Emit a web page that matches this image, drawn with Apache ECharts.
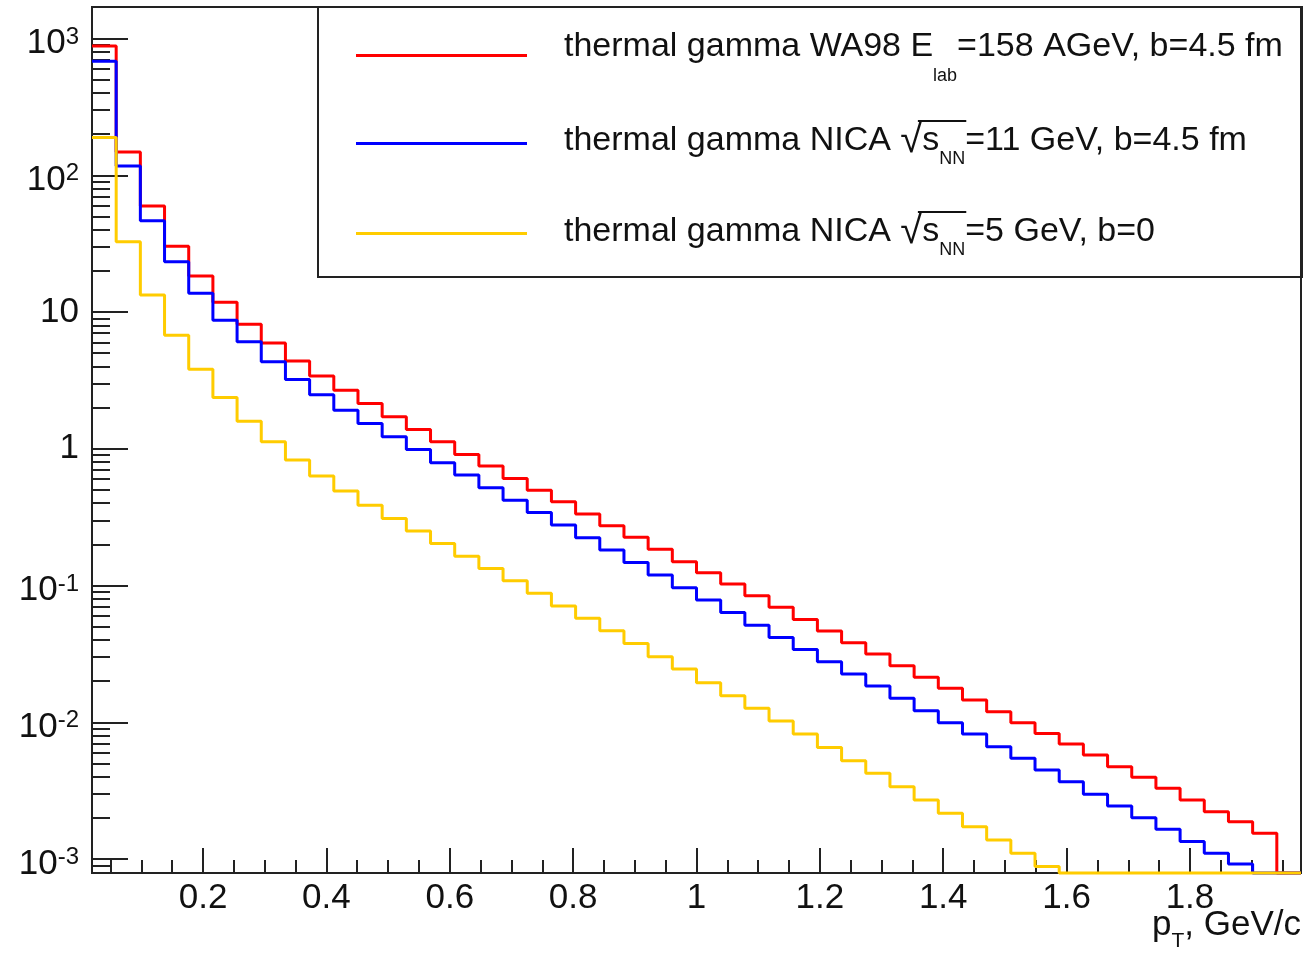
<!DOCTYPE html>
<html><head><meta charset="utf-8">
<script src="https://cdn.jsdelivr.net/npm/echarts@6/dist/echarts.min.js"></script>
<style>html,body{margin:0;padding:0;background:#fff}#c{width:1307px;height:955px}</style>
</head><body><div id="c"></div>
<script>
// ---- histogram binning (50 bins over the pT range) ----
const binLow = 0.02;
const binHigh = 1.98;
const nBins = 50;

// ---- tick values / labels ----
const xTickLabels = [0.2, 0.4, 0.6, 0.8, 1, 1.2, 1.4, 1.6, 1.8];
const yTickValues = [0.001, 0.01, 0.1, 1, 10, 100, 1000];

// ---- series names ----
const seriesNames = [
  'thermal gamma WA98 E_lab=158 AGeV, b=4.5 fm',
  'thermal gamma NICA sqrt(s_NN)=11 GeV, b=4.5 fm',
  'thermal gamma NICA sqrt(s_NN)=5 GeV, b=0'
];

// ---- bin contents (0 = empty / below the plotted range) ----
const wa98 = [883, 148, 59.5, 30.3, 18.3, 11.8, 8.14, 5.93, 4.39, 3.40,
  2.68, 2.145, 1.712, 1.384, 1.124, 0.909, 0.747, 0.607, 0.498, 0.409,
  0.333, 0.273, 0.225, 0.184, 0.149, 0.124, 0.1024, 0.0841, 0.0692, 0.0565,
  0.0464, 0.0381, 0.0315, 0.0259, 0.0213, 0.0177, 0.01453, 0.01193, 0.00992, 0.00829,
  0.00693, 0.00576, 0.00473, 0.00396, 0.00329, 0.0027, 0.00222, 0.00187, 0.00154, 0];
const nica11 = [682, 117, 46.5, 23.3, 13.7, 8.72, 6.05, 4.32, 3.21, 2.48,
  1.916, 1.531, 1.223, 0.989, 0.789, 0.642, 0.518, 0.421, 0.342, 0.2765,
  0.2233, 0.1815, 0.1476, 0.1192, 0.0962, 0.0785, 0.0636, 0.0513, 0.0417, 0.0341,
  0.0277, 0.0225, 0.0184, 0.01495, 0.01214, 0.00992, 0.0082, 0.00662, 0.00545, 0.00447,
  0.00367, 0.00297, 0.00244, 0.002, 0.00165, 0.00134, 0.0011, 0.00092, 0, 0];
const nica5 = [189, 32.6, 13.3, 6.77, 3.82, 2.37, 1.59, 1.124, 0.826, 0.631,
  0.49, 0.387, 0.309, 0.25, 0.203, 0.164, 0.1334, 0.1083, 0.0876, 0.0707,
  0.0575, 0.0467, 0.0377, 0.0301, 0.0245, 0.01945, 0.01562, 0.01264, 0.0102, 0.0082,
  0.00655, 0.00523, 0.00423, 0.00338, 0.0027, 0.00216, 0.00172, 0.001376, 0.0011, 0.00088,
  0, 0, 0, 0, 0, 0, 0, 0, 0, 0];

const Y_MIN = 7.9e-4, Y_MAX = 1.7e3;
const FONT = '"Liberation Sans", Arial, Helvetica, sans-serif';
const INK = '#111';
const FRAME = '#222';
const LBL = 35;      // axis label font size
const LEG = 34;      // legend font size
const SQ = 40;       // radical sign font size
const SUB = 18;      // legend subscript font size

// histogram -> step polyline (values below the frame are drawn on the frame floor, like ROOT)
function stepData(vals) {
  const w = (binHigh - binLow) / nBins;
  const d = vals.map((v, k) => [+(binLow + k * w).toFixed(5), Math.max(v, Y_MIN)]);
  d.push([binHigh, Math.max(vals[vals.length - 1], Y_MIN)]);
  return d;
}

// minor ticks
const yMinor = [];
for (let e = -4; e <= 3; e++) for (let m = 2; m <= 9; m++) {
  const v = +(m * Math.pow(10, e)).toPrecision(3);
  if (v >= Y_MIN && v <= Y_MAX) yMinor.push(v);
}
const xMinor = [];
for (let i = 1; i <= 39; i++) if (i % 4 !== 0) xMinor.push(Math.round(i * 5) / 100);

function yLabel(v) {
  const e = Math.round(Math.log10(v));
  if (e === 0) return '{p|1}';
  if (e === 1) return '{p|10}';
  return '{b|10}{s|' + (e < 0 ? '-' : '') + Math.abs(e) + '}';
}

// legend rows: base text lifted by SHIFT px above the line icon
const ROW_H = 82;
const SHIFT = [8.5, 2.5, 1.5];
function tok(size, extra) { return Object.assign({fontSize: size, fontFamily: FONT, color: INK, verticalAlign: 'middle'}, extra || {}); }
const legendRich = {
  t1: tok(LEG, {height: ROW_H - 2 * SHIFT[0], padding: [0, 0, 2 * SHIFT[0], 0]}),
  lab: tok(SUB, {padding: [41, 0, 0, 0]}),
  t2: tok(LEG, {height: ROW_H - 2 * SHIFT[1], padding: [0, 0, 2 * SHIFT[1], 0]}),
  sq2: tok(SQ, {padding: [0, 0, 2 * SHIFT[1], 0]}),
  nn2: tok(SUB, {padding: [32, 0, 0, 0]}),
  t3: tok(LEG, {height: ROW_H - 2 * SHIFT[2], padding: [0, 0, 2 * SHIFT[2], 0]}),
  sq3: tok(SQ, {padding: [0, 0, 2 * SHIFT[2], 0]}),
  nn3: tok(SUB, {padding: [34, 0, 0, 0]})
};
const legendText = {};
legendText[seriesNames[0]] = '{t1|thermal gamma WA98 E}{lab|lab}{t1|=158 AGeV, b=4.5 fm}';
legendText[seriesNames[1]] = '{t2|thermal gamma NICA }{sq2|√}{t2|s}{nn2|NN}{t2|=11 GeV, b=4.5 fm}';
legendText[seriesNames[2]] = '{t3|thermal gamma NICA }{sq3|√}{t3|s}{nn3|NN}{t3|=5 GeV, b=0}';

// legend geometry
const LEG_LEFT = 356, ICON_W = 171, TEXT_GAP = 32;
const TEXT_X = LEG_LEFT + ICON_W + 5 + TEXT_GAP;
const ROW_Y = [53, 143, 233];
const ROW_HALF = [23, 22, 21];   // half height of each legend row box

// overlines of the square-root signs (measured from the fonts)
const mctx = document.createElement('canvas').getContext('2d');
function tw(text, size) { mctx.font = size + 'px ' + FONT; mctx.textBaseline = 'alphabetic'; return mctx.measureText(text).width; }
function topFromMiddle(text, size) { mctx.font = size + 'px ' + FONT; mctx.textBaseline = 'middle'; return mctx.measureText(text).actualBoundingBoxAscent; }
function overline(row) {
  const x0 = TEXT_X + tw('thermal gamma NICA ', LEG);
  const sw = tw('√', SQ);
  const xe = x0 + sw + tw('s', LEG) + tw('NN', SUB) + 1;
  const y = Math.round(ROW_Y[row] - SHIFT[row] - topFromMiddle('√', SQ)) + 1;
  return {type: 'line', shape: {x1: x0 + sw * 0.8, y1: y, x2: xe, y2: y}, style: {stroke: INK, lineWidth: 2}, z: 10, silent: true};
}

const colors = ['#ff0000', '#0000ff', '#ffcc00'];
const values = [wa98, nica11, nica5];

const legends = seriesNames.map((name, i) => ({
  orient: 'vertical', left: LEG_LEFT, top: ROW_Y[i] - ROW_HALF[i], padding: 0,
  itemWidth: ICON_W, itemHeight: 3, icon: 'rect', selectedMode: false,
  data: [name],
  formatter: n => legendText[n],
  textStyle: {padding: [0, 0, 0, TEXT_GAP], fontFamily: FONT, fontSize: LEG, color: INK, rich: legendRich}
}));

const chart = echarts.init(document.getElementById('c'), null, {renderer: 'canvas'});
chart.setOption({
  animation: false,
  backgroundColor: '#fff',
  grid: {left: 92, right: 6, top: 7, bottom: 82, show: true, borderColor: FRAME, borderWidth: 2, backgroundColor: 'transparent', outerBoundsMode: 'none'},
  legend: legends,
  xAxis: [{
    type: 'value', min: binLow, max: binHigh, position: 'bottom',
    axisLine: {show: false}, splitLine: {show: false},
    axisTick: {show: true, inside: true, length: 25, customValues: xTickLabels, lineStyle: {color: FRAME, width: 2}},
    axisLabel: {show: true, customValues: xTickLabels, margin: 8, fontSize: LBL, fontFamily: FONT, color: INK, formatter: v => String(v)}
  }, {
    type: 'value', min: binLow, max: binHigh, position: 'bottom',
    axisLine: {show: false}, splitLine: {show: false}, axisLabel: {show: false},
    axisTick: {show: true, inside: true, length: 13, customValues: xMinor, lineStyle: {color: FRAME, width: 2}}
  }],
  yAxis: [{
    type: 'log', logBase: 10, min: Y_MIN, max: Y_MAX, position: 'left',
    axisLine: {show: false}, splitLine: {show: false},
    axisTick: {show: true, inside: true, length: 36, customValues: yTickValues, lineStyle: {color: FRAME, width: 2}},
    axisLabel: {show: true, customValues: yTickValues, margin: 13, formatter: yLabel,
      rich: {
        p: {fontSize: LBL, fontFamily: FONT, color: INK},
        b: {fontSize: LBL, padding: [10, 0, 0, 0], fontFamily: FONT, color: INK},
        s: {fontSize: 24, padding: [0, 0, 3, 0], fontFamily: FONT, color: INK}
      }}
  }, {
    type: 'log', logBase: 10, min: Y_MIN, max: Y_MAX, position: 'left',
    axisLine: {show: false}, splitLine: {show: false}, axisLabel: {show: false},
    axisTick: {show: true, inside: true, length: 18, customValues: yMinor, lineStyle: {color: FRAME, width: 2}}
  }],
  series: values.map((v, i) => ({
    name: seriesNames[i], type: 'line', step: 'end', xAxisIndex: 0, yAxisIndex: 0,
    data: stepData(v), showSymbol: false, symbol: 'none', clip: false,
    lineStyle: {color: colors[i], width: 3}, itemStyle: {color: colors[i]}, z: 3 + i
  })),
  graphic: [
    {type: 'rect', shape: {x: 318, y: 7, width: 984, height: 270}, style: {fill: 'none', stroke: FRAME, lineWidth: 2}, z: 1, silent: true},
    overline(1),
    overline(2),
    {type: 'text', z: 10, silent: true, style: {
      text: '{t|p}{s|T}{t|, GeV/c}', x: 1301, y: 925, align: 'right', verticalAlign: 'middle',
      rich: {t: {fontSize: LBL, fontFamily: FONT, fill: INK, color: INK, verticalAlign: 'middle'},
             s: {fontSize: 21, fontFamily: FONT, fill: INK, color: INK, verticalAlign: 'middle', padding: [32, 0, 0, 0]}}
    }}
  ]
});
</script></body></html>
